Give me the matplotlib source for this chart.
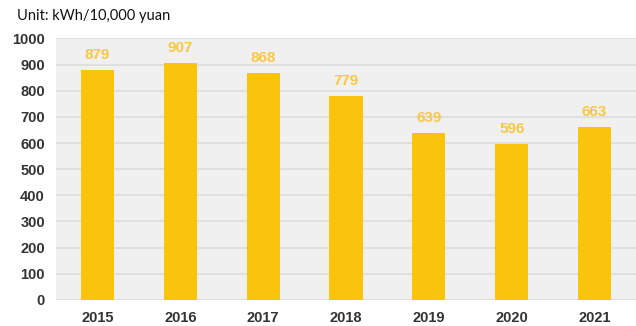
import matplotlib
matplotlib.use("Agg")
import matplotlib.pyplot as plt

years = ["2015", "2016", "2017", "2018", "2019", "2020", "2021"]
values = [879, 907, 868, 779, 639, 596, 663]
yticks = [0, 100, 200, 300, 400, 500, 600, 700, 800, 900, 1000]

fig = plt.figure(figsize=(6.36, 3.26), dpi=100)
ax = fig.add_axes([0.088, 0.08, 0.912, 0.802])
ax.set_facecolor("#F0F0F0")
x = range(len(years))
ax.bar(x, values, width=0.4, color="#FAC30C", zorder=3)
for xi, v in zip(x, values):
    ax.text(xi, v + 57, str(v), ha="center", va="center", color="#F8C845",
            fontsize=11, fontweight="bold", family="Liberation Sans", zorder=4)
ax.set_xlim(-0.5, len(years) - 0.5)
ax.set_ylim(0, 1000)
ax.set_yticks(yticks)
ax.set_xticks(list(x))
ax.set_xticklabels(years)
ax.grid(axis="y", color="#DCDCDC", linewidth=1.2, zorder=0)
for s in ax.spines.values():
    s.set_visible(False)
ax.tick_params(length=0, labelsize=10.5, pad=8)
for lab in ax.get_xticklabels() + ax.get_yticklabels():
    lab.set_fontweight("bold")
    lab.set_family("Liberation Sans")
    lab.set_color("#333333")
fig.text(0.027, 0.951, "Unit: kWh/10,000 yuan", fontsize=10.5, family="Lato",
         ha="left", va="center", color="#111111")
fig.savefig("out.png", dpi=100)
